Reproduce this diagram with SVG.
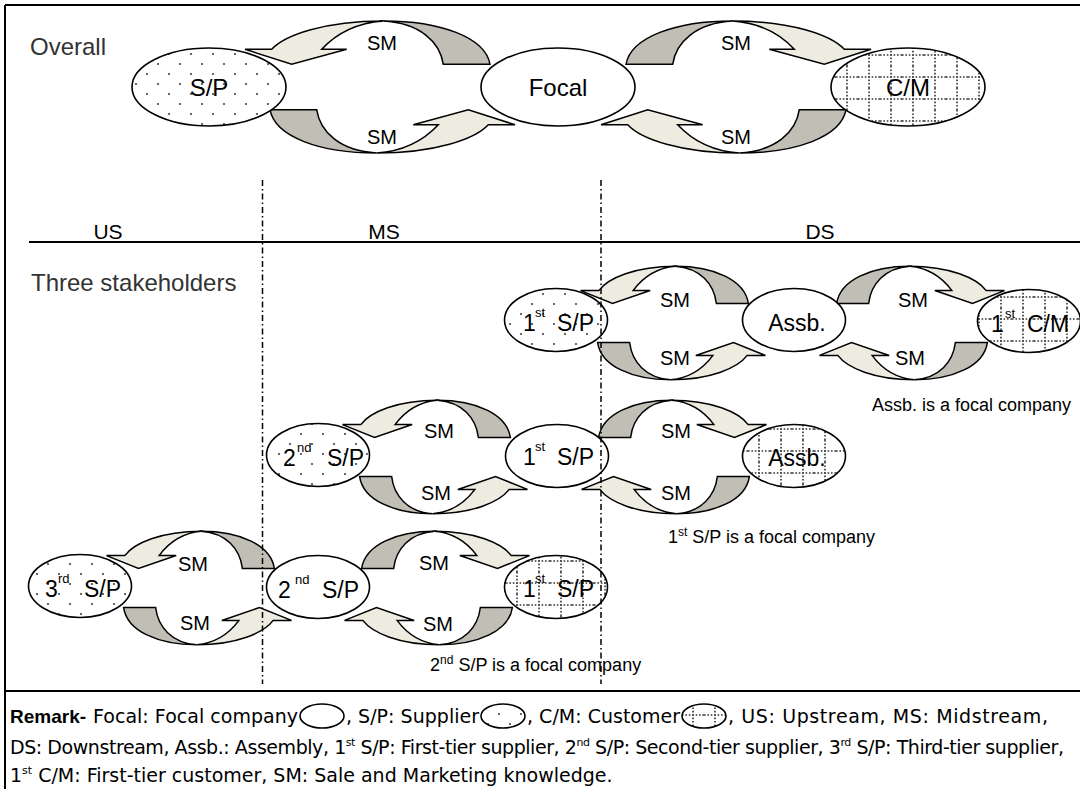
<svg xmlns="http://www.w3.org/2000/svg" width="1080" height="789" viewBox="0 0 1080 789">
<defs>
<style>
text{font-family:"Liberation Sans",Arial,sans-serif;fill:#000}
.lt{fill:#eeece1;stroke:#000;stroke-width:1.5;stroke-linejoin:miter}
.dk{fill:#c0beb5;stroke:#000;stroke-width:1.5;stroke-linejoin:miter}
.nd{stroke:#000;stroke-width:1.6}
.w{fill:#fff}
.dt{fill:url(#dots)}
.gr{fill:url(#grid)}
.sm{font-size:20px;text-anchor:middle}
.big{font-size:24px;text-anchor:middle}
.nt{font-size:23px}
.sup{font-size:13px}
.hd{font-size:24px;fill:#333}
.zone{font-size:21px;text-anchor:middle}
.cap{font-size:18px}
.rm{font-family:"DejaVu Sans","Liberation Sans",sans-serif;font-size:19px}
.rb{font-family:"Liberation Sans",Arial,sans-serif;font-size:19px;font-weight:bold}
.bd{stroke:#000;stroke-width:2;fill:none}
.dd{stroke:#000;stroke-width:1.5;stroke-dasharray:6 3 1.5 3;fill:none}
</style>
<pattern id="dots" patternUnits="userSpaceOnUse" width="22" height="20">
<rect width="22" height="20" fill="#fff"/>
<circle cx="4" cy="4" r="1.1" fill="#444"/>
<circle cx="15" cy="14" r="1.1" fill="#444"/>
</pattern>
<pattern id="grid" patternUnits="userSpaceOnUse" width="22" height="22">
<rect width="22" height="22" fill="#fff"/>
<line x1="0" y1="11" x2="22" y2="11" stroke="#333" stroke-width="1.6" stroke-dasharray="1.6 1.8"/>
<line x1="11" y1="0" x2="11" y2="22" stroke="#333" stroke-width="1.6" stroke-dasharray="1.6 1.8"/>
</pattern>
<g id="arr">
<path class="lt" vector-effect="non-scaling-stroke" d="M3.3,-66 C-55,-66 -95,-52 -108.3,-37.7 L-135,-37.7 L-88.3,-22.7 L-33.3,-37.7 L-58.3,-37.7 C-45,-52 -25,-64 3.3,-66 Z"/>
<path class="dk" vector-effect="non-scaling-stroke" d="M3.3,-66 C60,-66 105,-50 110,-22.7 L63.3,-22.7 C60,-45 40,-64 3.3,-66 Z"/>
</g>
</defs>
<rect width="1080" height="789" fill="#fff"/>

<g id="frame">
<path class="bd" d="M5,5 H1080 M5,5 V789 M5,691 H1080 M29,242 H1080"/>
</g>

<g id="labels">
<text x="30" y="55" class="hd">Overall</text>
<text x="31" y="291" class="hd">Three stakeholders</text>
<text x="108" y="239" class="zone">US</text>
<text x="384" y="239" class="zone">MS</text>
<text x="820" y="239" class="zone">DS</text>
<text x="872" y="411" class="cap">Assb. is a focal company</text>
<text x="668" y="543" class="cap">1<tspan dy="-7" font-size="12">st</tspan><tspan dy="7"> S/P is a focal company</tspan></text>
<text x="430" y="671" class="cap">2<tspan dy="-7" font-size="12">nd</tspan><tspan dy="7"> S/P is a focal company</tspan></text>
</g>

<g id="connectors">
<use href="#arr" transform="translate(380,87)"/>
<use href="#arr" transform="translate(380,87) rotate(180)"/>
<use href="#arr" transform="translate(736,87) scale(-1,1)"/>
<use href="#arr" transform="translate(736,87) scale(1,-1)"/>
<use href="#arr" transform="translate(673,323) scale(0.685,0.86)"/>
<use href="#arr" transform="translate(673,323) scale(-0.685,-0.86)"/>
<use href="#arr" transform="translate(912,323) scale(-0.685,0.86)"/>
<use href="#arr" transform="translate(912,323) scale(0.685,-0.86)"/>
<use href="#arr" transform="translate(435,457) scale(0.685,0.86)"/>
<use href="#arr" transform="translate(435,457) scale(-0.685,-0.86)"/>
<use href="#arr" transform="translate(674,457) scale(-0.685,0.86)"/>
<use href="#arr" transform="translate(674,457) scale(0.685,-0.86)"/>
<use href="#arr" transform="translate(199,588) scale(0.685,0.86)"/>
<use href="#arr" transform="translate(199,588) scale(-0.685,-0.86)"/>
<use href="#arr" transform="translate(437,588) scale(-0.685,0.86)"/>
<use href="#arr" transform="translate(437,588) scale(0.685,-0.86)"/>
<text x="382" y="50" class="sm">SM</text>
<text x="382" y="144" class="sm">SM</text>
<text x="736" y="50" class="sm">SM</text>
<text x="736" y="144" class="sm">SM</text>
<text x="675" y="307" class="sm">SM</text>
<text x="675" y="365" class="sm">SM</text>
<text x="913" y="307" class="sm">SM</text>
<text x="910" y="365" class="sm">SM</text>
<text x="439" y="438" class="sm">SM</text>
<text x="436" y="500" class="sm">SM</text>
<text x="676" y="438" class="sm">SM</text>
<text x="676" y="500" class="sm">SM</text>
<text x="193" y="571" class="sm">SM</text>
<text x="195" y="630" class="sm">SM</text>
<text x="434" y="570" class="sm">SM</text>
<text x="438" y="631" class="sm">SM</text>
</g>

<g id="n-sp-top"><ellipse class="nd dt" cx="209" cy="87" rx="77" ry="39"/><text x="209" y="96" class="big">S/P</text></g>
<g id="n-focal-top"><ellipse class="nd w" cx="558" cy="87" rx="77" ry="39"/><text x="558" y="96" class="big">Focal</text></g>
<g id="n-cm-top"><ellipse class="nd gr" cx="908" cy="87" rx="77" ry="39"/><text x="908" y="96" class="big">C/M</text></g>

<g id="n-r1-sp"><ellipse class="nd dt" cx="556" cy="320" rx="51.5" ry="31.5"/><text x="523" y="331" class="nt">1<tspan x="535" y="317" class="sup">st</tspan><tspan x="557" y="331">S/P</tspan></text></g>
<g id="n-r1-assb"><ellipse class="nd w" cx="794" cy="320" rx="51.5" ry="31.5"/><text x="797" y="331" class="nt" text-anchor="middle">Assb.</text></g>
<g id="n-r1-cm"><ellipse class="nd gr" cx="1029" cy="321" rx="51.5" ry="31.5"/><text x="991" y="332" class="nt">1<tspan x="1005" y="318" class="sup">st</tspan><tspan x="1027" y="332">C/M</tspan></text></g>

<g id="n-r2-sp2"><ellipse class="nd dt" cx="318" cy="455" rx="51.5" ry="31.5"/><text x="283" y="466" class="nt">2<tspan x="297" y="452" class="sup">nd</tspan><tspan x="327" y="466">S/P</tspan></text></g>
<g id="n-r2-sp1"><ellipse class="nd w" cx="557" cy="456" rx="51.5" ry="31.5"/><text x="523" y="465" class="nt">1<tspan x="535" y="451" class="sup">st</tspan><tspan x="557" y="465">S/P</tspan></text></g>
<g id="n-r2-assb"><ellipse class="nd gr" cx="794" cy="456" rx="51.5" ry="31.5"/><text x="797" y="466" class="nt" text-anchor="middle">Assb.</text></g>

<g id="n-r3-sp3"><ellipse class="nd dt" cx="80" cy="586" rx="51.5" ry="31.5"/><text x="45" y="597" class="nt">3<tspan x="58" y="583" class="sup">rd</tspan><tspan x="84" y="597">S/P</tspan></text></g>
<g id="n-r3-sp2"><ellipse class="nd w" cx="318" cy="587" rx="51.5" ry="31.5"/><text x="278" y="598" class="nt">2<tspan x="295" y="584" class="sup">nd</tspan><tspan x="322" y="598">S/P</tspan></text></g>
<g id="n-r3-sp1"><ellipse class="nd gr" cx="556" cy="587" rx="51.5" ry="31.5"/><text x="523" y="597" class="nt">1<tspan x="535" y="583" class="sup">st</tspan><tspan x="557" y="597">S/P</tspan></text></g>

<g id="dividers">
<line class="dd" x1="262.5" y1="180" x2="262.5" y2="684"/>
<line class="dd" x1="601" y1="180" x2="601" y2="684"/>
</g>

<g id="remark">
<text x="10" y="723" class="rb">Remark-</text>
<text x="93" y="723" class="rm" textLength="205" lengthAdjust="spacing">Focal: Focal company</text>
<ellipse class="nd w" cx="322" cy="716" rx="22" ry="12"/>
<text x="346" y="723" class="rm" textLength="133" lengthAdjust="spacing">, S/P: Supplier</text>
<ellipse class="nd dt" cx="503" cy="716" rx="22" ry="12"/>
<text x="527" y="723" class="rm" textLength="153" lengthAdjust="spacing">, C/M: Customer</text>
<ellipse class="nd gr" cx="704" cy="716" rx="22" ry="12"/>
<text x="728" y="723" class="rm" textLength="320" lengthAdjust="spacing">, US: Upstream, MS: Midstream,</text>
<text x="10" y="754" class="rm" textLength="1054" lengthAdjust="spacing">DS: Downstream, Assb.: Assembly, 1<tspan dy="-8" font-size="11">st</tspan><tspan dy="8"> S/P: First-tier supplier, 2</tspan><tspan dy="-8" font-size="11">nd</tspan><tspan dy="8"> S/P: Second-tier supplier, 3</tspan><tspan dy="-8" font-size="11">rd</tspan><tspan dy="8"> S/P: Third-tier supplier,</tspan></text>
<text x="10" y="782" class="rm">1<tspan dy="-8" font-size="11">st</tspan><tspan dy="8"> C/M: First-tier customer, SM: Sale and Marketing knowledge.</tspan></text>
</g>
</svg>
